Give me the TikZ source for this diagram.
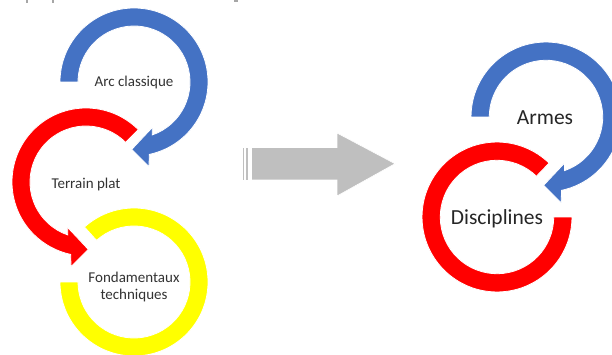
\documentclass[tikz,border=0pt]{standalone}
\usepackage{fontspec}
\setmainfont{Carlito}
\definecolor{cblue}{HTML}{4472C4}
\definecolor{cred}{HTML}{FF0000}
\definecolor{cyellow}{HTML}{FFFF00}
\definecolor{cgray}{HTML}{BFBFBF}
\definecolor{ctext}{HTML}{333333}
\newcommand\cirarrow[2]{%
  \fill[#2, draw=white, line width=0.8pt] (#1:74) arc[start angle=#1, end angle=438, radius=74]
    -- (440:86) -- (452:67.5) -- (428:49) -- (431:56)
    arc[start angle=431, end angle=#1, radius=56] -- cycle;}
\newcommand\cirring[3]{%
  \fill[#3, draw=white, line width=0.8pt] (#1:74) arc[start angle=#1, end angle=#2, radius=74]
    -- (#2:56) arc[start angle=#2, end angle=#1, radius=56] -- cycle;}
\tikzset{
  smalllabel/.style={text=ctext, font=\fontsize{15}{17}\selectfont, align=center, inner sep=0pt},
  biglabel/.style={text=black!85, font=\fontsize{21.5}{24}\selectfont, inner sep=0pt},
  graybox/.style={fill=cgray, draw=white, line width=0.6pt},
  frag/.style={fill=black!35}
}
\begin{document}
\begin{tikzpicture}[x=1pt,y=-1pt]
\useasboundingbox[fill=white] (0,0) rectangle (612,355);
% cropped fragments at the top edge
\fill[frag] (26,0) rectangle (28,3);
\fill[frag] (52,0) rectangle (54,3);
\fill[frag] (234,0) rectangle (238,2);
% left group
\begin{scope}[shift={(134,282)}]
  \cirring{180}{-132}{cyellow}
\end{scope}
\begin{scope}[shift={(86,182)}, xscale=-1]
  \cirarrow{225}{cred}
\end{scope}
\begin{scope}[shift={(134,82)}]
  \cirarrow{180}{cblue}
\end{scope}
\node[smalllabel] (arc) at (134,83) {Arc classique};
\node[smalllabel] (terrain) at (86,185) {Terrain plat};
\node[smalllabel] (fond) at (134,287) {Fondamentaux\\techniques};
% gray striped arrow
\fill[graybox] (242,147.5) rectangle (244,180);
\fill[graybox] (245,147.5) rectangle (248.3,180);
\fill[graybox] (251.5,147.5) -- (337,147.5) -- (337,133) -- (395,163.7) -- (337,196) -- (337,180) -- (251.5,180) -- cycle;
% right group
\begin{scope}[shift={(497,217)}, scale=1.013]
  \cirring{0}{314}{cred}
\end{scope}
\begin{scope}[shift={(546,117)}, scale=1.013]
  \cirarrow{180}{cblue}
\end{scope}
\node[biglabel] (armes) at (545,118) {Armes};
\node[biglabel] (disc) at (497,219) {Disciplines};
\end{tikzpicture}
\end{document}
